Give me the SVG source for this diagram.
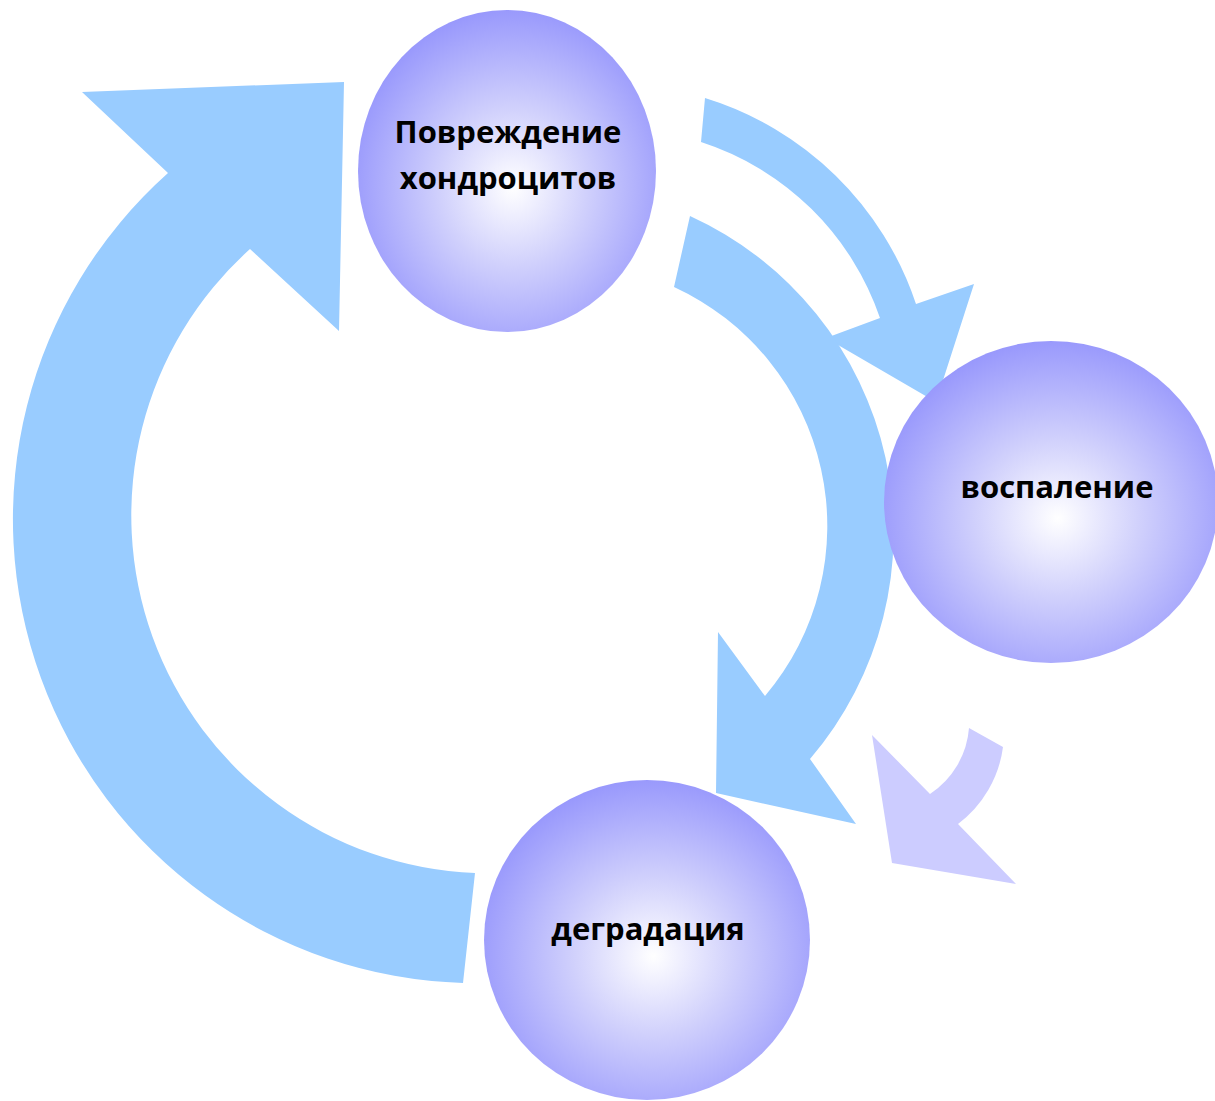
<svg xmlns="http://www.w3.org/2000/svg" width="1215" height="1101" viewBox="0 0 1215 1101">
<defs>
<radialGradient id="ball" cx="0.52" cy="0.55" r="0.55" fx="0.52" fy="0.55">
<stop offset="0" stop-color="#ffffff"/>
<stop offset="0.45" stop-color="#d0d0fc"/>
<stop offset="1" stop-color="#9999fc"/>
</radialGradient>
<style>
.arr{fill:#99ccff;stroke:none}
.arr2{fill:#ccccff;stroke:none}
.node{fill:url(#ball);stroke:none}
.lbl{font-family:"Open Sans","Noto Sans","DejaVu Sans",sans-serif;font-weight:bold;font-size:31px;fill:#000;text-anchor:middle}
</style>
</defs>
<rect width="1215" height="1101" fill="#ffffff"/>
<g id="connectors">
<path class="arr" d="M 463 983 A 464 464 0 0 1 168 173 L 82 92 L 344 82 L 339 331 L 250 249 A 358 358 0 0 0 475 873 Z"/>
<path class="arr" d="M 705 98 A 322 322 0 0 1 916 304 L 974 284 L 936 402 L 826 338 L 880 318 A 280 280 0 0 0 701 142 Z"/>
<path class="arr" d="M 690 216 A 348 348 0 0 1 810 759 L 856 824 L 716 793 L 718 632 L 765 696 A 263 263 0 0 0 674 287 Z"/>
<path class="arr2" d="M 1003 747 A 115 115 0 0 1 958 824 L 1016 884 L 892 863 L 872 735 L 930 794 A 87 87 0 0 0 969 728 Z"/>
</g>
<g id="node-povrezhdenie">
<ellipse class="node" cx="507" cy="171" rx="149" ry="161"/>
<text class="lbl" x="508" y="143">Повреждение</text>
<text class="lbl" x="508" y="189">хондроцитов</text>
</g>
<g id="node-vospalenie">
<ellipse class="node" cx="1051" cy="502" rx="167" ry="161"/>
<text class="lbl" x="1057" y="498">воспаление</text>
</g>
<g id="node-degradatsiya">
<ellipse class="node" cx="647" cy="940" rx="163" ry="160"/>
<text class="lbl" x="648" y="940">деградация</text>
</g>
</svg>
